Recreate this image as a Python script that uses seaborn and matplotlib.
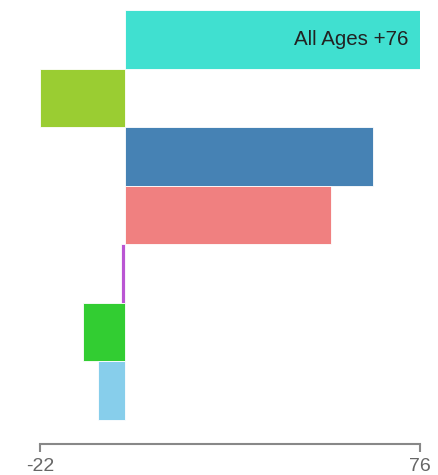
import matplotlib
matplotlib.use("Agg")
import matplotlib.pyplot as plt
import seaborn as sns
import pandas as pd

categories = ["All Ages", "Group 2", "Group 3", "Group 4", "Group 5", "Group 6", "Group 7"]
values = [76, -22, 64, 53, -1, -11, -7]
colors = ["#40E0D0", "#9ACD32", "#4682B4", "#F08080", "#BA55D3", "#32CD32", "#87CEEB"]
tick_values = [-22, 76]
tick_labels = ["-22", "76"]

df = pd.DataFrame({"category": categories, "value": values})

sns.set_style("white")
plt.rcParams["font.family"] = ["Liberation Sans", "DejaVu Sans"]

W, H = 438, 475
fig = plt.figure(figsize=(W / 100, H / 100), dpi=100)
ax = fig.add_axes([40 / W, 1 - 444 / H, 380 / W, 434 / H])

sns.barplot(data=df, y="category", x="value", hue="category", palette=colors,
            orient="h", width=1.0, legend=False, ax=ax, saturation=1,
            edgecolor="white", linewidth=0.6)

ax.set_xlim(-22, 76)
ax.set_ylim(6.91, -0.5)
ax.set_xticks(tick_values)
ax.set_xticklabels(tick_labels, fontsize=14, color="#666666")
ax.tick_params(axis="x", bottom=True, direction="out", length=6, width=1.5,
               color="#888888", pad=4)
ax.set_yticks([])
ax.set_xlabel("")
ax.set_ylabel("")
for s in ["top", "right", "left"]:
    ax.spines[s].set_visible(False)
ax.spines["bottom"].set_color("#888888")
ax.spines["bottom"].set_linewidth(1.5)

ax.text(72.9, 0, f"{categories[0]} +{values[0]}", ha="right", va="center",
        fontsize=14.8, color="#222222")

fig.savefig("out.png", dpi=100)
